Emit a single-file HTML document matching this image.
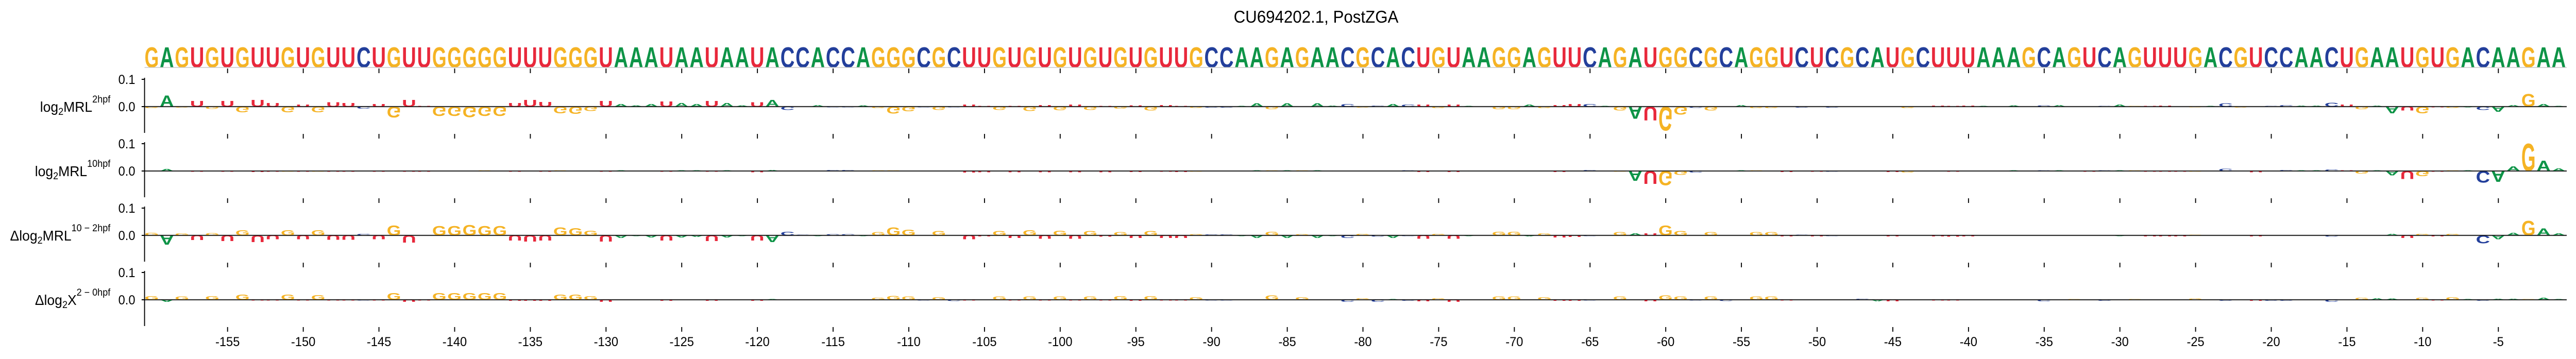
<!DOCTYPE html>
<html><head><meta charset="utf-8"><style>
html,body{margin:0;padding:0;background:#fff;width:100%;height:100%;overflow:hidden;}
svg{display:block;font-family:"Liberation Sans",sans-serif;width:100vw;height:100vh;}
</style></head><body>
<svg id="chart" viewBox="0 0 5275 697" preserveAspectRatio="none" xmlns="http://www.w3.org/2000/svg">
<text x="2695" y="44" font-size="33" text-anchor="middle">CU694202.1, PostZGA</text>
<g id="seqg"></g>
<g id="panels"></g>
<g id="xaxis"></g>
</svg>
<script>
const sequence = "GAGUGUGUUGUGUUCUGUUGGGGGUUUGGGUA"+"AAUAAUAAUACCACCAGGGCGCUUGUGUGUGU"+"GUGUUGCCAAGAGAACGCACUGUAAGGAGUUC"+"AGAUGGCGCAGGUCUCGCAUGCUUUAAAGCAG"+"UCAGUUUGACGUCCAACUGAAUGUGACAAGAA";
const positions = Array.from({length:160},(_, i)=>i-160);
const xTicks = [-155,-150,-145,-140,-135,-130,-125,-120,-115,-110,-105,-100,-95,-90,-85,-80,-75,-70,-65,-60,-55,-50,-45,-40,-35,-30,-25,-20,-15,-10,-5];
const yTicks = [0.0, 0.1];
const mrl2 = [-0.006,0.043,-0.004,0.021,-0.009,0.021,-0.022,0.025,0.014,-0.022,0.008,-0.022,0.016,0.014,-0.007,0.01,-0.042,0.025,0.003,-0.035,-0.035,-0.041,-0.035,-0.035,0.014,0.025,0.018,-0.025,-0.028,-0.017,0.022,0.01,
0.005,0.01,0.02,0.014,0.01,0.022,0.014,0.005,0.016,0.025,-0.012,-0.001,0.006,-0.002,-0.002,0.005,-0.006,-0.027,-0.018,-0.002,-0.013,-0.002,0.008,0.002,-0.013,0.003,-0.016,0.006,-0.014,0.007,-0.012,0.002,
-0.008,0.005,-0.015,0.006,0.003,-0.005,-0.004,-0.004,0.003,0.013,-0.01,0.012,0,0.012,0.004,0.01,-0.004,0.004,0.01,0.008,0.008,-0.006,0.008,0.003,0,-0.01,-0.01,0.008,-0.006,0.006,0.01,0.01,
0.002,-0.015,-0.047,-0.054,-0.092,-0.03,-0.005,-0.015,0,0.006,-0.006,-0.006,0,-0.004,0,-0.004,0,0,0,0,-0.006,0,0.004,0.003,0.004,0.002,0,0.005,0,0.005,0.006,0,
0,0.003,0.008,0.002,0.002,0.004,0,-0.003,0.002,0.013,-0.004,0,0.002,0.006,0.004,0.004,0.015,0.007,-0.01,0.004,-0.025,-0.015,-0.025,-0.002,-0.005,-0.002,-0.012,-0.02,0.006,0.048,0.01,0.003];
const mrl10 = [0,0.008,0.001,-0.002,0.001,-0.002,0.001,-0.004,-0.003,-0.002,-0.003,-0.002,-0.002,-0.002,0,-0.003,0.001,-0.002,-0.002,0.001,0.001,0.001,0.002,0.001,-0.002,-0.001,-0.003,0.002,0.001,0.001,-0.002,0.002,
0,0,-0.002,0.002,0.002,-0.002,0.002,0,-0.005,0.004,0,0,0.001,0.004,0.004,0.001,0.003,0.003,0.001,0,0.001,0,-0.006,-0.005,0,-0.005,0,-0.005,0,-0.005,0,-0.005,
0,-0.004,0,-0.003,-0.004,-0.002,0,0,0.001,0.002,0.003,0.002,0.003,0.002,0.001,0,0.001,0,0,0.003,-0.004,0,-0.004,0.001,0,0.001,0.001,0.001,0,-0.004,0,0.004,
0,-0.002,-0.038,-0.05,-0.055,-0.015,-0.006,0,0,0.003,0.003,0,-0.004,0,-0.003,-0.002,0,0,0,-0.004,-0.006,0,0,-0.002,0,0,0,0.003,0,0.003,0.003,0,
-0.003,0.002,0.003,0.002,-0.002,-0.003,-0.002,-0.002,0,0.009,0,-0.005,0,0.004,0.002,0.002,0.006,0.003,-0.01,0.002,-0.016,-0.03,-0.02,-0.003,0.002,0.002,-0.045,-0.042,0.018,0.105,0.04,0.01];
const dmrl = [0.01,-0.035,0.008,-0.018,0.009,-0.022,0.02,-0.025,-0.015,0.02,-0.015,0.02,-0.016,-0.016,0.006,-0.015,0.038,-0.028,0,0.036,0.036,0.04,0.036,0.036,-0.02,-0.024,-0.02,0.03,0.028,0.018,-0.024,-0.01,
-0.003,-0.008,-0.02,-0.008,-0.006,-0.022,-0.008,-0.003,-0.02,-0.025,0.014,0.002,-0.003,0.005,0.005,-0.003,0.012,0.03,0.022,0,0.017,0,-0.015,-0.004,0.017,-0.01,0.02,-0.012,0.018,-0.012,0.017,-0.005,
0.013,-0.01,0.016,-0.01,-0.01,0.005,0.004,0.004,-0.003,-0.01,0.014,-0.01,0.005,-0.01,-0.003,-0.01,0.006,-0.005,-0.01,-0.003,-0.012,0.006,-0.012,-0.003,0,0.014,0.014,-0.004,0.008,-0.008,-0.006,-0.003,
0,0.012,0.008,0.008,0.038,0.016,0,0.012,0,0,0.012,0.012,-0.004,0.002,-0.004,-0.002,0,0,0,-0.004,0,0,-0.004,-0.005,-0.004,0,0,0,0,0,0,0,
0,0,-0.002,0,-0.004,-0.004,-0.004,0.003,0,0,0,-0.004,0,0,0,0,-0.005,0,0,0,0.006,-0.01,0.006,-0.004,0.006,0,-0.03,-0.015,0.01,0.056,0.027,0.008];
const dx = [0.014,-0.008,0.012,0,0.014,0,0.02,-0.002,-0.002,0.02,-0.002,0.018,-0.002,-0.002,-0.003,-0.002,0.025,-0.008,-0.003,0.025,0.025,0.025,0.025,0.025,-0.004,-0.004,-0.004,0.02,0.02,0.014,-0.008,0,
0,0,-0.004,0,0,-0.004,0,0,-0.004,0.002,0,0,0,0,0,0,0.008,0.015,0.012,-0.003,0.01,-0.005,-0.002,0,0.012,-0.002,0.013,-0.002,0.013,-0.002,0.012,-0.002,
0.014,-0.004,0.014,-0.002,-0.002,0.01,-0.002,-0.002,0,0,0.016,0,0.01,0,0,-0.008,0.006,-0.008,0.002,-0.004,-0.006,0.006,-0.008,0,0,0.012,0.012,0,0.01,-0.004,-0.004,-0.003,
0,0.012,0,-0.006,0.016,0.012,-0.003,0.012,-0.005,0,0.012,0.012,-0.003,0,0,0,0,0.004,-0.006,-0.006,0,0,-0.003,-0.003,0,0,0,0,0,-0.006,0,0.002,
0,-0.004,0,0.002,0,0,0,0.005,0,-0.004,0,-0.004,-0.004,-0.004,0,0,-0.008,0,0.007,0.006,0.005,0,0.008,-0.003,0.01,0.003,-0.004,0.004,0.004,0.003,0.007,0.003];

const NS="http://www.w3.org/2000/svg";
const colors={G:"#F5B324",A:"#0E9447",U:"#E8283B",C:"#233F9B"};
const gw={G:77.8,A:72.2,U:72.2,C:72.2};
const CAP=72.9, STEP=31, AXL=296, AXR=5256;
function xPos(p){return 466+(p+155)*STEP;}
function mk(tag,attrs,parent){const e=document.createElementNS(NS,tag);for(const k in attrs)e.setAttribute(k,attrs[k]);parent.appendChild(e);return e;}
function drawLetterSigned(parent,ch,xc,y0,hpx){
  const w=STEP-1;
  if(!ch||Math.abs(hpx)<0.3) return;
  const g=mk('g',{transform:`translate(${xc-w/2},${y0}) scale(${w/gw[ch]},${hpx/CAP})`},parent);
  
  
  const t=mk('text',{x:0,y:0,'font-size':100,'font-weight':'bold',fill:colors[ch],textLength:gw[ch]-2,lengthAdjust:'spacingAndGlyphs'},g);
  t.textContent=ch;
}
const seqg=document.getElementById('seqg');
for(let i=0;i<160;i++){drawLetterSigned(seqg,sequence[i],xPos(positions[i]),131,41);}
mk('line',{x1:AXL,x2:AXR,y1:131,y2:131,stroke:'#c8c8c8','stroke-width':1.5},seqg);
function xticks(parent,y){for(const t of xTicks){const l=mk('line',{x1:xPos(t),x2:xPos(t),y1:y,y2:y+9,stroke:'#000','stroke-width':2},parent);}}
xticks(seqg,133);

const panelDefs=[
 {vals:mrl2, top:151, zero:207, name:'panel-log2mrl-2hpf', lab:[['log'],['2','sub'],['MRL'],['2hpf','sup']]},
 {vals:mrl10, top:276, zero:332, name:'panel-log2mrl-10hpf', lab:[['log'],['2','sub'],['MRL'],['10hpf','sup']]},
 {vals:dmrl, top:401, zero:457, name:'panel-dlog2mrl-10-2hpf', lab:[['Δlog'],['2','sub'],['MRL'],['10 − 2hpf','sup']]},
 {vals:dx, top:526, zero:582, name:'panel-dlog2x-2-0hpf', lab:[['Δlog'],['2','sub'],['X'],['2 − 0hpf','sup']]}
];
const SCALE=530;
const panels=document.getElementById('panels');
panelDefs.forEach((pd)=>{
  const g=mk('g',{},panels);
  
  
  const yv=v=>pd.zero - v*SCALE;
  mk('line',{x1:AXL,x2:AXR,y1:pd.zero,y2:pd.zero,stroke:'#c8c8c8','stroke-width':3},g);
  for(let i=0;i<160;i++){drawLetterSigned(g,sequence[i],xPos(positions[i]),pd.zero,pd.vals[i]*SCALE);}
  mk('line',{x1:AXL,x2:AXR,y1:pd.zero,y2:pd.zero,stroke:'#000','stroke-width':1.5},g);
  const ax=mk('line',{x1:AXL,x2:AXL,y1:pd.top,y2:pd.top+107,stroke:'#000','stroke-width':2},g);
  
  
  for(const t of yTicks){
    mk('line',{x1:AXL-6,x2:AXL,y1:yv(t),y2:yv(t),stroke:'#000','stroke-width':2},g);
    const tl=mk('text',{x:277,y:yv(t)+9,'font-size':25,'text-anchor':'end'},g);
    
    
    tl.textContent=t.toFixed(1);
  }
  const lab=mk('text',{x:226,y:pd.zero+10,'font-size':28,'text-anchor':'end'},g);
  
  
  for(const [s,k] of pd.lab){
    const ts=mk('tspan',{},lab);
    if(k==='sub'){ts.setAttribute('font-size','19');ts.setAttribute('dy','6');}
    else if(k==='sup'){ts.setAttribute('font-size','19');ts.setAttribute('dy','-18');}
    else if(lab.childNodes.length>1){ts.setAttribute('dy','-6');}
    ts.textContent=s;
  }
  xticks(g,pd.top+109);
});
const xa=document.getElementById('xaxis');
for(const t of xTicks){
  const tl=mk('text',{x:xPos(t),y:672,'font-size':25,'text-anchor':'middle'},xa);
  
  
  tl.textContent=String(t);
}
</script>
</body></html>
